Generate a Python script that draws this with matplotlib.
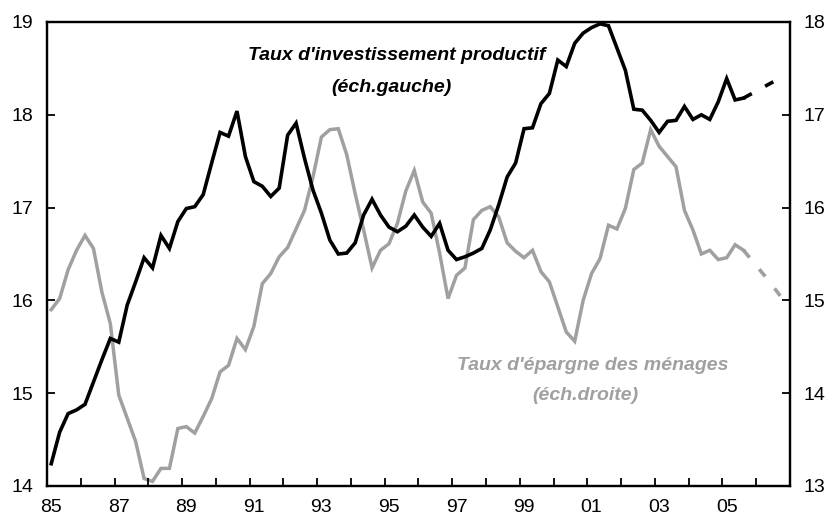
import numpy as np
import matplotlib
matplotlib.use("Agg")
import matplotlib.pyplot as plt

plt.rcParams['font.family'] = ['Liberation Sans', 'DejaVu Sans']

start_year = 1985
# Taux d'investissement productif (quarterly, left scale)
invest = [14.24, 14.58, 14.78, 14.82, 14.88, 15.12, 15.36, 15.59, 15.55, 15.95,
          16.20, 16.46, 16.35, 16.70, 16.56, 16.85, 16.99, 17.01, 17.14, 17.48,
          17.81, 17.77, 18.04, 17.55, 17.28, 17.23, 17.12, 17.21, 17.78, 17.91,
          17.53, 17.19, 16.94, 16.65, 16.50, 16.51, 16.62, 16.92, 17.09, 16.92,
          16.79, 16.74, 16.80, 16.92, 16.79, 16.69, 16.83, 16.54, 16.44, 16.47,
          16.51, 16.56, 16.76, 17.03, 17.33, 17.48, 17.85, 17.86, 18.12, 18.23,
          18.59, 18.52, 18.77, 18.88, 18.94, 18.98, 18.96, 18.72, 18.48, 18.06,
          18.05, 17.94, 17.81, 17.93, 17.94, 18.09, 17.95, 18.00, 17.95, 18.14,
          18.39, 18.16, 18.18]
invest_fc = [18.18, 18.23, 18.28, 18.33, 18.38, 18.43]

# Taux d'épargne des ménages (quarterly, right scale)
epargne = [14.90, 15.02, 15.33, 15.54, 15.70, 15.56, 15.09, 14.75, 13.98, 13.73,
           13.48, 13.08, 13.05, 13.19, 13.19, 13.62, 13.64, 13.57, 13.75, 13.94,
           14.23, 14.30, 14.59, 14.47, 14.72, 15.18, 15.29, 15.47, 15.57, 15.77,
           15.97, 16.33, 16.76, 16.84, 16.85, 16.57, 16.15, 15.76, 15.35, 15.54,
           15.61, 15.83, 16.18, 16.40, 16.06, 15.94, 15.51, 15.02, 15.27, 15.35,
           15.87, 15.97, 16.01, 15.90, 15.62, 15.53, 15.46, 15.54, 15.31, 15.20,
           14.93, 14.66, 14.56, 15.00, 15.29, 15.45, 15.81, 15.77, 15.99, 16.41,
           16.48, 16.84, 16.66, 16.55, 16.44, 15.97, 15.76, 15.50, 15.54, 15.44,
           15.46, 15.60, 15.54]
epargne_fc = [15.54, 15.43, 15.32, 15.21, 15.09, 14.97]

year_labels = ['85', '87', '89', '91', '93', '95', '97', '99', '01', '03', '05']
left_ticks = [14, 15, 16, 17, 18, 19]
right_ticks = [13, 14, 15, 16, 17, 18]

GRAY = '#a0a0a0'

n = len(invest)
x = start_year + (np.arange(n) + 0.5) / 4.0
x_fc = start_year + (np.arange(n - 1, n - 1 + len(invest_fc)) + 0.5) / 4.0

fig = plt.figure(figsize=(8.33, 5.28), dpi=100)
ax = fig.add_axes([47 / 833, 1 - 486 / 528, (790 - 47) / 833, (486 - 22) / 528])
ax2 = ax.twinx()

ax2.plot(x, epargne, color=GRAY, lw=2.5, solid_joinstyle='miter', zorder=2)
ax2.plot(x_fc, epargne_fc, color=GRAY, lw=2.6, dashes=(2.6, 4.2), zorder=2)
ax.plot(x, invest, color='black', lw=2.6, solid_joinstyle='miter', zorder=3)
ax.plot(x_fc, invest_fc, color='black', lw=2.6, dashes=(2.6, 4.2), zorder=3)
ax.set_zorder(ax2.get_zorder() + 1)
ax.patch.set_visible(False)

ax.set_xlim(1985, 2007)
ax.set_ylim(14, 19)
ax2.set_ylim(13, 18)

ax.set_xticks(np.arange(1985, 2008))
ax.set_xticklabels([])
lab_pos = [(1900 + int(s) if int(s) > 50 else 2000 + int(s)) + 0.125 for s in year_labels]
ax.set_xticks(lab_pos, minor=True)
ax.set_xticklabels(year_labels, minor=True)
ax.tick_params(axis='x', which='major', direction='in', length=6, width=1.3)
ax.tick_params(axis='x', which='minor', length=0, pad=9, labelsize=14)

ax.set_yticks(left_ticks)
ax.set_yticklabels([str(v) for v in left_ticks])
ax.tick_params(axis='y', direction='in', length=6, width=1.3, pad=10, labelsize=14)
ax2.set_yticks(right_ticks)
ax2.set_yticklabels([str(v) for v in right_ticks])
ax2.tick_params(axis='y', direction='in', length=6, width=1.3, pad=10, labelsize=14)

for a in (ax, ax2):
    for s in a.spines.values():
        s.set_linewidth(1.6)
        s.set_color('black')

fs = 14
fig.text(397 / 833, 1 - 56 / 528, "Taux d'investissement productif", ha='center', va='center',
         fontsize=fs, fontweight='bold', fontstyle='italic', color='black')
fig.text(391 / 833, 1 - 88 / 528, "(éch.gauche)", ha='center', va='center',
         fontsize=fs, fontweight='bold', fontstyle='italic', color='black')
fig.text(593 / 833, 1 - 366 / 528, "Taux d'épargne des ménages", ha='center', va='center',
         fontsize=fs, fontweight='bold', fontstyle='italic', color=GRAY)
fig.text(585 / 833, 1 - 396 / 528, "(éch.droite)", ha='center', va='center',
         fontsize=fs, fontweight='bold', fontstyle='italic', color=GRAY)

fig.savefig('out.png', dpi=100)
